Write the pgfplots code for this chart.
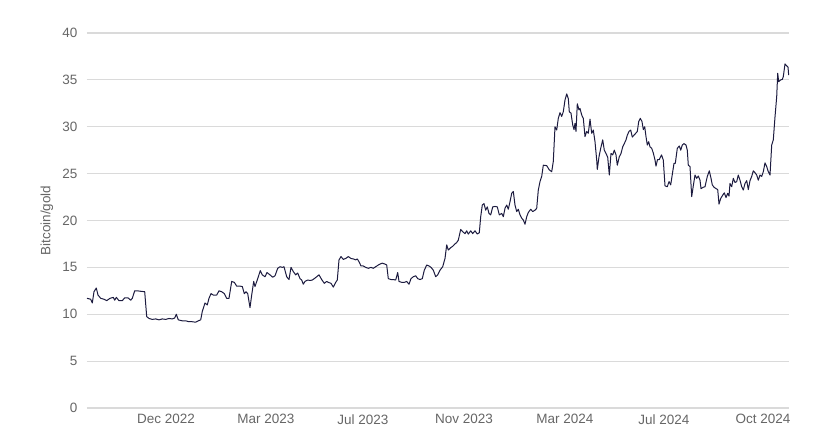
\documentclass[border=0pt]{standalone}
\usepackage{pgfplots}
\pgfplotsset{compat=1.18}
\usepackage{fontspec}
\setmainfont{Liberation Sans}
\definecolor{linec}{HTML}{1C1B3F}
\definecolor{gridc}{HTML}{DADADA}
\definecolor{tickc}{HTML}{666666}
\begin{document}
\begin{tikzpicture}[x=1pt,y=1pt]
\useasboundingbox (0,0) rectangle (822,438);
\begin{axis}[
  at={(87pt,30pt)}, anchor=south west,
  scale only axis, width=702pt, height=375pt,
  xmin=87, xmax=789, ymin=0, ymax=40,
  axis line style={draw=none},
  ytick={0,5,...,40},
  xtick={166,266,363,464,565,664,763},
  xticklabels={Dec 2022,Mar 2023,Jul 2023,Nov 2023,Mar 2024,Jul 2024,Oct 2024},
  major tick length=0pt,
  ymajorgrids, grid style={gridc, line width=1.1pt},
  tick label style={font=\fontsize{13.5}{16}\selectfont, text=tickc},
  /pgf/number format/assume math mode=true,
  yticklabel style={anchor=east, xshift=-6pt},
  xticklabel style={anchor=north, yshift=-3pt},
  ylabel={Bitcoin/gold},
  ylabel style={font=\fontsize{13.5}{16}\selectfont, text=tickc, at={(axis description cs:-0.057,0.5)}, anchor=center},
  clip=false,
]
\addplot[linec, line width=1pt, line join=round] coordinates {
(87,11.7)(90.7,11.6)(92.3,11.2)(94,12.4)(96.3,12.8)(98,12.05)(100.7,11.7)(104,11.6)(106.7,11.45)(110,11.7)
(113.3,11.8)(114.7,11.5)(116.3,11.8)(119,11.45)(122.3,11.45)(124.7,11.75)(128,11.75)(130.7,11.5)(132.3,11.7)
(134.7,12.5)(137.3,12.5)(140.7,12.45)(144.7,12.4)(146.7,9.75)(149,9.55)(152.3,9.45)(155.7,9.5)(159,9.4)
(162.3,9.5)(165.7,9.45)(169,9.55)(172.3,9.5)(174.7,9.6)(176.3,10.0)(178.3,9.4)(182.3,9.3)(185.7,9.3)
(189,9.2)(192.3,9.2)(195.7,9.15)(198.3,9.3)(200.7,9.4)(202.3,10.3)(205,11.2)(207.3,11.0)(209,11.7)
(211,12.2)(213.3,12.05)(216.7,12.05)(219,12.5)(221.7,12.4)(224.3,12.2)(226.7,11.7)(229,11.7)(231.7,13.5)
(234.3,13.4)(236.7,13.0)(240,13.0)(242.3,12.95)(244.3,12.2)(246,12.4)(247.7,12.2)(250,10.7)(251.7,12.05)
(253.7,13.5)(255,12.95)(257.7,13.8)(260.3,14.65)(262.3,14.2)(265,14.0)(267,14.45)(270,14.2)(272.7,13.95)
(275,14.1)(277.7,14.9)(280,15.07)(282.3,15.0)(284,15.07)(286.7,14.0)(289,13.7)(291,15.0)(293.3,14.55)
(295.7,14.2)(297.7,14.4)(300,13.8)(301.7,13.65)(303.3,13.2)(305,13.5)(307.7,13.65)(310,13.6)(312.3,13.65)
(314.3,13.8)(316.7,14.0)(319,14.2)(321.7,13.7)(324.3,13.3)(326.7,13.5)(328.3,13.4)(331,13.3)(333.3,12.9)
(335.7,13.4)(337.3,13.65)(339,15.8)(341,16.15)(343.3,15.85)(345.7,15.95)(348.3,16.15)(351,15.95)
(353.3,15.9)(355.7,15.8)(357.3,15.9)(359,15.6)(361,15.15)(363.3,15.15)(365.7,15.0)(368.3,14.9)(371,15.0)
(373.3,14.9)(375.7,15.07)(378.3,15.25)(380,15.35)(382.3,15.45)(385,15.35)(386.7,15.25)(388.3,13.8)
(391,13.7)(393.3,13.7)(395.7,13.65)(397.7,14.45)(399,13.5)(401.7,13.4)(404.3,13.4)(406.7,13.5)(409,13.2)
(411,13.8)(413.3,14.0)(415.7,14.1)(417.7,13.8)(420,13.7)(422.3,13.8)(424.3,14.7)(426.7,15.25)(429,15.15)
(431,15.0)(433.3,14.7)(435.7,14.0)(437.7,14.2)(440,14.7)(442.7,15.07)(445,15.95)(446.7,17.4)(448.3,16.85)
(450.7,17.1)(452.7,17.25)(455,17.5)(456.7,17.65)(458.3,17.9)(460.7,19.05)(462.7,18.8)(465,18.6)(466.7,18.9)
(468.3,18.55)(470.7,18.9)(472.7,18.6)(475,18.9)(477.3,18.55)(479.3,18.7)(480.7,20.4)(482.3,21.65)(484,21.8)
(485.7,21.1)(487.3,21.45)(489,20.75)(490.7,20.6)(492.7,21.45)(495,21.5)(497.3,21.45)(499.3,20.6)
(501.7,20.75)(503.3,20.4)(505,21.3)(506.7,21.65)(508.3,21.2)(510,22.0)(511.7,22.9)(513.3,23.1)(515,21.65)
(516.7,20.95)(518.3,21.2)(520,20.6)(521.7,20.25)(523.3,20.05)(525,19.6)(526.7,20.4)(528.3,20.85)
(530.7,21.2)(532.7,20.95)(535,21.1)(536.7,21.3)(538.3,23.25)(540,24.15)(541.7,24.7)(543.3,25.9)
(546.7,25.85)(549.3,25.4)(551.7,25.2)(553.3,26.3)(555,30.0)(556.7,29.65)(558.3,30.9)(560,31.5)(561.7,31.1)
(563.3,31.6)(565,32.85)(566.7,33.5)(568.3,33.0)(569.3,31.6)(571,31.45)(572.7,30.2)(574,29.7)(575,30.35)
(576,29.5)(577.3,32.45)(579,31.8)(580,31.95)(581.7,31.25)(583.3,30.9)(585,28.95)(586.7,29.5)(588.3,29.3)
(590,30.8)(591.7,29.3)(593.3,29.65)(595,28.4)(596.7,26.45)(597.3,25.45)(599,26.8)(600.7,27.7)(602.7,28.6)
(604.3,27.5)(606,27.15)(607.7,26.75)(609.3,24.85)(611,27.15)(612.7,27.0)(614.3,27.5)(616,27.0)(617.3,25.9)
(619.3,26.8)(621,27.15)(622.7,27.85)(624.3,28.2)(626,28.6)(627.3,29.1)(629,29.5)(630.7,29.65)(632.3,28.9)
(634,29.1)(635.7,29.3)(637.3,29.5)(638.7,30.55)(640.3,30.9)(642,30.55)(643.3,29.7)(644.7,30.0)(646,28.95)
(647.3,28.05)(648.7,28.4)(650,27.85)(651.7,27.7)(653.3,27.2)(655,26.45)(656,25.8)(657.5,26.5)(659.3,26.5)
(661.5,27.0)(663.3,26.45)(665,23.7)(667.3,23.6)(669,24.15)(670.7,23.8)(672.7,25.2)(674,26.1)(675.3,26.1)
(677.3,27.7)(679.3,27.95)(680.7,27.5)(682.3,28.05)(684,28.2)(686,28.05)(687.3,27.5)(688.3,25.9)(690,25.75)
(691.7,22.55)(693.3,23.7)(695,24.85)(696.7,24.5)(698.3,24.75)(700,24.3)(701,23.4)(703.3,23.55)(705,23.6)
(707.3,24.7)(709.3,25.3)(711,24.5)(712.3,23.8)(714,23.55)(716,23.4)(717.7,23.3)(719,21.75)(720.7,22.35)
(722.7,22.7)(724.3,22.95)(726,22.45)(727.7,22.9)(729,22.6)(730,23.95)(731.7,23.6)(733.3,24.5)(735,24.05)
(736.7,24.15)(738.3,24.85)(740,24.3)(741.7,23.6)(743.3,23.25)(745,23.95)(746.7,24.25)(748.3,23.3)
(750,24.25)(751.7,24.7)(753.3,25.3)(755,25.1)(756.7,24.85)(758.3,24.3)(760,24.85)(761.7,24.7)(763.3,25.2)
(765,26.15)(766.7,25.75)(768.3,25.2)(770,24.85)(771.7,28.05)(773.3,28.6)(775,31.05)(776.7,33.2)(777.7,35.7)
(778.7,34.8)(780.7,35.0)(782.3,35.05)(783.3,35.35)(785,36.7)(786.7,36.5)(788,36.35)(788.7,35.5)
};
\end{axis}
\end{tikzpicture}
\end{document}
